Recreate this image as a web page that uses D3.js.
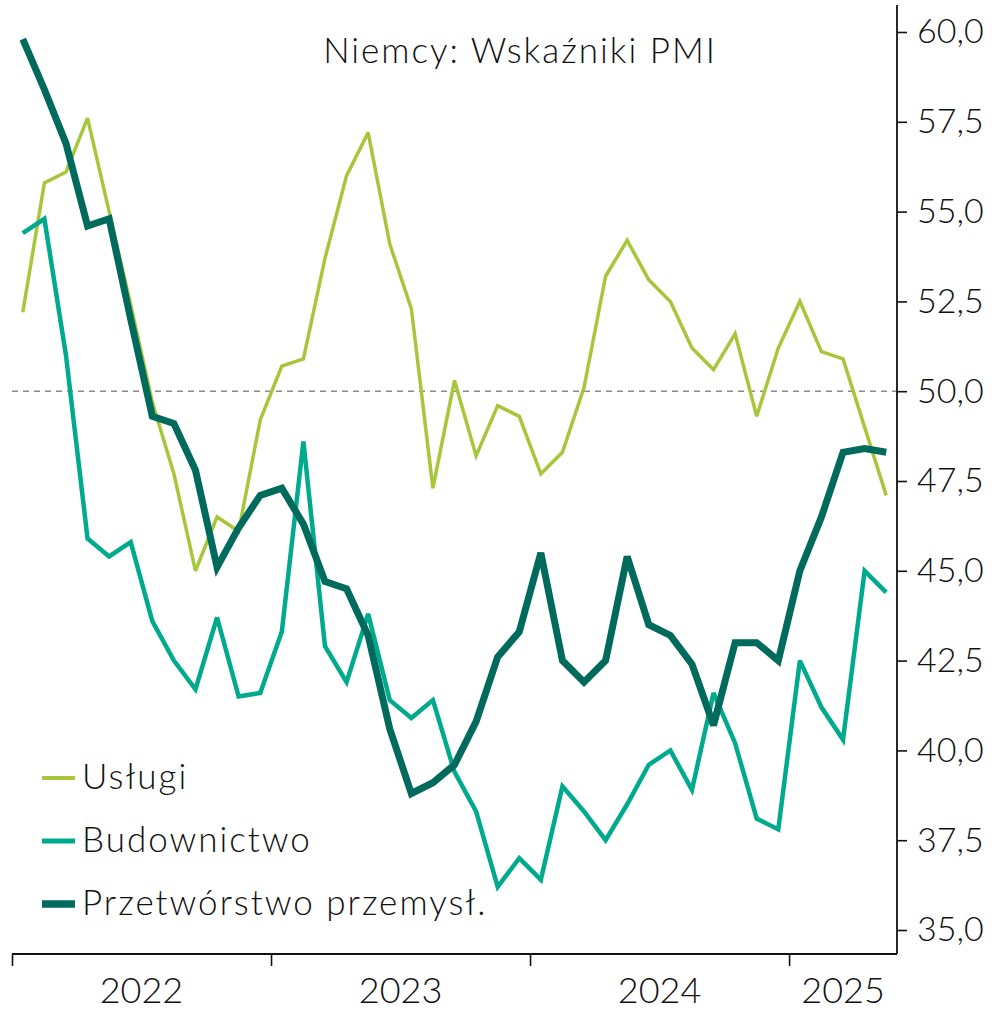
<!DOCTYPE html>
<html><head><meta charset="utf-8">
<script src="https://cdn.jsdelivr.net/npm/d3@7"></script>
<style>
body{margin:0;background:#fff;}
svg text{font-family:Lato,"Noto Sans",sans-serif;font-weight:300;fill:#111;}
</style></head>
<body><svg id="c" width="997" height="1010"></svg>
<script>
const title = "Niemcy: Wskaźniki PMI";
const seriesNames = ["Usługi","Budownictwo","Przetwórstwo przemysł."];
const seriesColors = ["#a7c63a","#00aa8d","#006a5c"];
const seriesWidths = [3.5,4.5,7];
const yearLabels = ["2022","2023","2024","2025"];
const yTicks = [35,37.5,40,42.5,45,47.5,50,52.5,55,57.5,60];
// monthly, Jan 2022 - May 2025
const uslugi = [52.2,55.8,56.1,57.6,55.0,52.4,49.7,47.7,45.0,46.5,46.1,49.2,
  50.7,50.9,53.7,56.0,57.2,54.1,52.3,47.3,50.3,48.2,49.6,49.3,
  47.7,48.3,50.1,53.2,54.2,53.1,52.5,51.2,50.6,51.6,49.3,51.2,
  52.5,51.1,50.9,49.0,47.1];
const budownictwo = [54.4,54.8,51.0,45.9,45.4,45.8,43.6,42.5,41.7,43.7,41.5,41.6,
  43.3,48.6,42.9,41.9,43.8,41.4,40.9,41.4,39.4,38.3,36.2,37.0,
  36.4,39.0,38.3,37.5,38.5,39.6,40.0,38.9,41.6,40.2,38.1,37.8,
  42.5,41.2,40.3,45.0,44.4];
const przetworstwo = [59.8,58.4,56.9,54.6,54.8,52.0,49.3,49.1,47.8,45.1,46.2,47.1,
  47.3,46.3,44.7,44.5,43.2,40.6,38.8,39.1,39.6,40.8,42.6,43.3,
  45.5,42.5,41.9,42.5,45.4,43.5,43.2,42.4,40.7,43.0,43.0,42.5,
  45.0,46.5,48.3,48.4,48.3];
const series = [uslugi, budownictwo, przetworstwo];

const svg = d3.select("#c");
const nMonths = uslugi.length;
const x = d3.scaleLinear().domain([0, nMonths]).range([12, 897]);
const y = d3.scaleLinear().domain([35, 60]).range([930, 32]);
const axisY = 954;

// reference line at 50
svg.append("line").attr("x1", 12).attr("x2", x(nMonths)).attr("y1", y(50)).attr("y2", y(50))
  .attr("stroke", "#8a8a8a").attr("stroke-width", 1.6).attr("stroke-dasharray", "6,5");

// lines
const line = d3.line().x((d,i)=>x(i+0.5)).y(d=>y(d));
series.forEach((s,k)=>{
  svg.append("path").datum(s).attr("d", line).attr("fill","none")
    .attr("stroke", seriesColors[k]).attr("stroke-width", seriesWidths[k])
    .attr("stroke-linejoin","miter").attr("stroke-miterlimit", 3);
});

// right axis
const yAxis = d3.axisRight(y).tickValues(yTicks).tickSize(10).tickPadding(10)
  .tickFormat(d=>d3.format(".1f")(d).replace(".", ","));
const gy = svg.append("g").attr("transform", `translate(${x(nMonths)},0)`).call(yAxis);
gy.select(".domain").remove();
gy.selectAll(".tick line").attr("stroke","#111").attr("stroke-width",1.6);
gy.selectAll(".tick text").style("font-size","34px").attr("fill","#111");
svg.append("line").attr("x1", x(nMonths)).attr("x2", x(nMonths)).attr("y1", 5).attr("y2", axisY)
  .attr("stroke","#111").attr("stroke-width",1.8);

// bottom axis
const yearStarts = yearLabels.map((d,i)=>i*12);
const xAxis = d3.axisBottom(x).tickValues(yearStarts).tickSize(12).tickFormat("");
const gx = svg.append("g").attr("transform", `translate(0,${axisY})`).call(xAxis);
gx.select(".domain").remove();
gx.selectAll(".tick line").attr("stroke","#111").attr("stroke-width",1.6);
svg.append("line").attr("x1", x(0)).attr("x2", x(nMonths)).attr("y1", axisY).attr("y2", axisY)
  .attr("stroke","#111").attr("stroke-width",1.8);
yearLabels.forEach((lab,i)=>{
  const a = x(i*12), b = x(Math.min((i+1)*12, nMonths));
  svg.append("text").attr("x",(a+b)/2).attr("y",1003).attr("text-anchor","middle")
    .style("font-size","36px").text(lab);
});

// title
svg.append("text").attr("x", 520).attr("y", 63).attr("text-anchor","middle")
  .style("font-size","35px").style("letter-spacing","2px").text(title);

// legend
const legY = [778, 841, 904];
seriesNames.forEach((n,k)=>{
  svg.append("line").attr("x1",42).attr("x2",75).attr("y1",legY[k]).attr("y2",legY[k])
    .attr("stroke",seriesColors[k]).attr("stroke-width",[4,5,7.5][k]);
  svg.append("text").attr("x",82).attr("y",legY[k]+11).style("font-size","35px")
    .style("letter-spacing","2px").text(n);
});
</script></body></html>
